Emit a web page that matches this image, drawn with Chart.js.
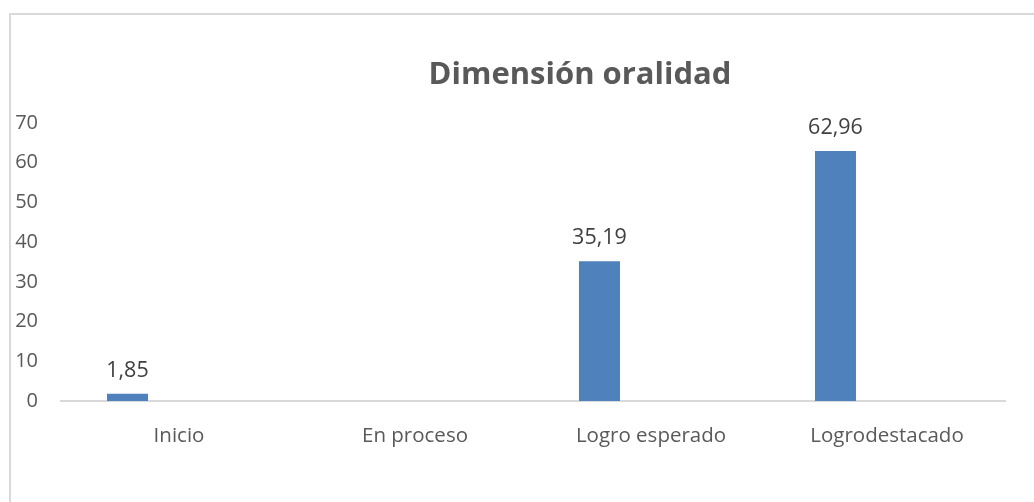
<!DOCTYPE html>
<html>
<head>
<meta charset="utf-8">
<script src="https://cdn.jsdelivr.net/npm/chart.js@4/dist/chart.umd.min.js"></script>
<style>
html,body{margin:0;padding:0;background:#fff;}
#wrap{position:relative;width:1034px;height:502px;}
</style>
</head>
<body>
<div id="wrap"><canvas id="c" width="1034" height="502"></canvas></div>
<script>
const titleText = "Dimensión oralidad";
const categories = ["Inicio", "En proceso", "Logro esperado", "Logrodestacado"];
const serie1 = [1.85, null, 35.19, 62.96];
const serie2 = [null, null, null, null];
const serie3 = [null, null, null, null];
const yTicks = [0, 10, 20, 30, 40, 50, 60, 70];

const FONT = "'Open Sans', 'Noto Sans', sans-serif";

const framePlugin = {
  id: 'frame',
  beforeDraw(chart) {
    const ctx = chart.ctx;
    ctx.save();
    ctx.fillStyle = '#ffffff';
    ctx.fillRect(0, 0, chart.width, chart.height);
    ctx.strokeStyle = '#d9d9d9';
    ctx.lineWidth = 2;
    ctx.beginPath();
    ctx.moveTo(10, chart.height + 2);
    ctx.lineTo(10, 14);
    ctx.lineTo(chart.width + 2, 14);
    ctx.stroke();
    ctx.restore();
  },
  afterDraw(chart) {
    const ctx = chart.ctx;
    ctx.save();
    ctx.fillStyle = '#595959';
    ctx.font = "bold 31px " + FONT;
    ctx.textAlign = 'center';
    ctx.textBaseline = 'middle';
    ctx.fillText(titleText, 580, 75);
    ctx.restore();
  }
};

const labelPlugin = {
  id: 'valueLabels',
  afterDatasetsDraw(chart) {
    const ctx = chart.ctx;
    const meta = chart.getDatasetMeta(0);
    ctx.save();
    ctx.fillStyle = '#404040';
    ctx.font = "21.5px " + FONT;
    ctx.textAlign = 'center';
    ctx.textBaseline = 'middle';
    meta.data.forEach((el, i) => {
      const v = serie1[i];
      if (v === null || v === undefined) return;
      ctx.fillText(v.toFixed(2).replace('.', ','), el.x, el.y - 23);
    });
    ctx.restore();
  }
};

new Chart(document.getElementById('c'), {
  type: 'bar',
  data: {
    labels: categories,
    datasets: [
      { label: 'Serie 1', data: serie1, backgroundColor: '#4F81BD', borderWidth: 0 },
      { label: 'Serie 2', data: serie2, backgroundColor: '#C0504D', borderWidth: 0 },
      { label: 'Serie 3', data: serie3, backgroundColor: '#9BBB59', borderWidth: 0 }
    ]
  },
  options: {
    responsive: false,
    animation: false,
    devicePixelRatio: 1,
    categoryPercentage: 0.655,
    barPercentage: 0.796,
    layout: { padding: { top: 123, left: 0, right: 29, bottom: 0 } },
    plugins: {
      legend: { display: false },
      title: { display: false },
      tooltip: { enabled: false }
    },
    scales: {
      x: {
        offset: true,
        grid: { display: false, drawTicks: false },
        border: { display: true, color: '#d9d9d9', width: 2 },
        ticks: {
          color: '#595959',
          font: { family: FONT, size: 20.5 },
          padding: 23,
          maxRotation: 0,
          autoSkip: false
        },
        afterFit(scale) { scale.height = 101; }
      },
      y: {
        min: 0,
        max: 70,
        afterBuildTicks(scale) { scale.ticks = yTicks.map(v => ({ value: v })); },
        grid: { display: false, drawTicks: false },
        border: { display: false },
        ticks: {
          color: '#595959',
          font: { family: FONT, size: 20 },
          padding: 23
        },
        afterFit(scale) { scale.width = 61; }
      }
    }
  },
  plugins: [framePlugin, labelPlugin]
});
</script>
</body>
</html>
